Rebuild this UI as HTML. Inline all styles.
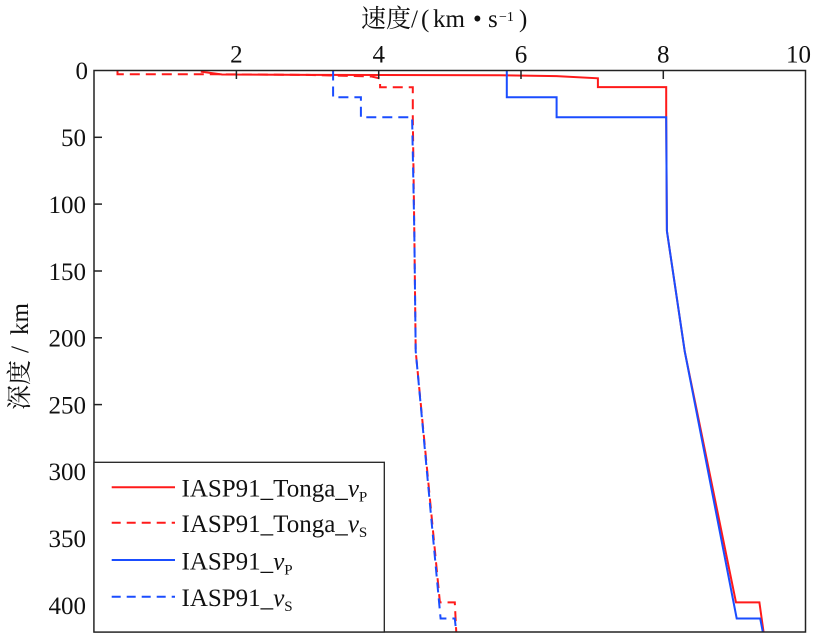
<!DOCTYPE html>
<html>
<head>
<meta charset="utf-8">
<style>
  html, body { margin: 0; padding: 0; background: #fff; }
  svg { display: block; }
  text { font-family: "Liberation Serif", "Noto Serif CJK SC", serif; fill: #111; }
</style>
</head>
<body>
<svg width="814" height="633" viewBox="0 0 814 633" xmlns="http://www.w3.org/2000/svg">
  <defs>
    <clipPath id="plot">
      <rect x="94" y="70.5" width="711.5" height="561.5"/>
    </clipPath>
  </defs>

  <!-- Title -->
  <text x="361" y="27" font-size="25">速度</text>
  <text x="411" y="27" font-size="25">/</text>
  <text x="421" y="27" font-size="25">(</text>
  <text x="433" y="27" font-size="25">km</text>
  <text x="473" y="27" font-size="25">•</text>
  <text x="488" y="27" font-size="25">s</text>
  <text x="499" y="21" font-size="14">−1</text>
  <text x="519" y="27" font-size="25">)</text>

  <!-- Y label -->
  <g transform="translate(28,410) rotate(-90)">
    <text x="0" y="0" font-size="25">深度</text>
    <text x="57" y="0" font-size="25">/</text>
    <text x="75" y="0" font-size="25">km</text>
  </g>

  <!-- Plot lines -->
  <g clip-path="url(#plot)" fill="none" stroke-width="2" stroke-linejoin="miter">
    <!-- Tonga vP -->
    <polyline stroke="#ff1a1a" points="200.8,71.6 222.1,74.5 307.5,74.9 499.7,75.3 556.6,76.1 597.9,78.3 597.9,87.1 666.2,87.1 666.2,117.3 666.9,230.9 684.7,351.2 736.0,602.4 759.4,602.4 763.7,633"/>
    <!-- Tonga vS -->
    <polyline stroke="#ff1a1a" stroke-dasharray="10,6" points="117.5,70.5 117.5,74.2 207.9,74.2 307.5,74.9 371.6,76.5 380.1,78.5 380.1,87.3 412.8,87.3 412.8,117.3 414.3,230.9 415.7,351.2 439.9,602.4 454.8,602.4 456.3,633"/>
    <!-- IASP91 vP -->
    <polyline stroke="#1a4dff" points="506.8,70.5 506.8,97.2 556.6,97.2 556.6,117.3 666.2,117.3 666.9,230.9 684.7,351.2 736.7,618.5 760.2,618.5 763.0,633"/>
    <!-- IASP91 vS -->
    <polyline stroke="#1a4dff" stroke-dasharray="10,6" points="333.1,70.5 333.1,97.2 360.9,97.2 360.9,117.3 412.1,117.3 414.3,230.9 415.7,351.2 440.6,618.5 454.8,618.5 456.3,633"/>
  </g>

  <!-- Axes frame -->
  <rect x="94" y="70.5" width="711.5" height="561.5" fill="none" stroke="#222" stroke-width="1.5"/>

  <!-- X ticks (top, inward) -->
  <g stroke="#222" stroke-width="1.5">
    <line x1="236.4" y1="70.5" x2="236.4" y2="79"/>
    <line x1="378.7" y1="70.5" x2="378.7" y2="79"/>
    <line x1="521" y1="70.5" x2="521" y2="79"/>
    <line x1="663.3" y1="70.5" x2="663.3" y2="79"/>
  </g>
  <g font-size="25" text-anchor="middle">
    <text x="236.4" y="62.5">2</text>
    <text x="378.7" y="62.5">4</text>
    <text x="521" y="62.5">6</text>
    <text x="663.3" y="62.5">8</text>
    <text x="811" y="62.5" text-anchor="end">10</text>
  </g>

  <!-- Y ticks (left, inward) -->
  <g stroke="#222" stroke-width="1.5">
    <line x1="94" y1="137.3" x2="102" y2="137.3"/>
    <line x1="94" y1="204.1" x2="102" y2="204.1"/>
    <line x1="94" y1="271" x2="102" y2="271"/>
    <line x1="94" y1="337.8" x2="102" y2="337.8"/>
    <line x1="94" y1="404.6" x2="102" y2="404.6"/>
    <line x1="94" y1="471.4" x2="102" y2="471.4"/>
    <line x1="94" y1="538.3" x2="102" y2="538.3"/>
    <line x1="94" y1="605.1" x2="102" y2="605.1"/>
  </g>
  <g font-size="25" text-anchor="end">
    <text x="88" y="79">0</text>
    <text x="86" y="146">50</text>
    <text x="86" y="213">100</text>
    <text x="86" y="279.8">150</text>
    <text x="86" y="346.6">200</text>
    <text x="86" y="413.4">250</text>
    <text x="86" y="480.2">300</text>
    <text x="86" y="547.1">350</text>
    <text x="86" y="613.9">400</text>
  </g>

  <!-- Legend -->
  <rect x="94" y="462.3" width="290.3" height="169.7" fill="#fff" stroke="#222" stroke-width="1.3"/>
  <g stroke-width="2" fill="none">
    <line x1="111.7" y1="487.3" x2="175" y2="487.3" stroke="#ff1a1a"/>
    <line x1="111.7" y1="522.7" x2="175" y2="522.7" stroke="#ff1a1a" stroke-dasharray="9,6"/>
    <line x1="111.7" y1="560" x2="175" y2="560" stroke="#1a4dff"/>
    <line x1="111.7" y1="596.7" x2="175" y2="596.7" stroke="#1a4dff" stroke-dasharray="9,6"/>
  </g>
  <g font-size="25">
    <text x="181.5" y="496.7">IASP91_Tonga_<tspan font-style="italic">v</tspan><tspan font-size="15" dy="5">P</tspan></text>
    <text x="181.5" y="532.1">IASP91_Tonga_<tspan font-style="italic">v</tspan><tspan font-size="15" dy="5">S</tspan></text>
    <text x="181.5" y="569.4">IASP91_<tspan font-style="italic">v</tspan><tspan font-size="15" dy="5">P</tspan></text>
    <text x="181.5" y="606.1">IASP91_<tspan font-style="italic">v</tspan><tspan font-size="15" dy="5">S</tspan></text>
  </g>
</svg>
</body>
</html>
